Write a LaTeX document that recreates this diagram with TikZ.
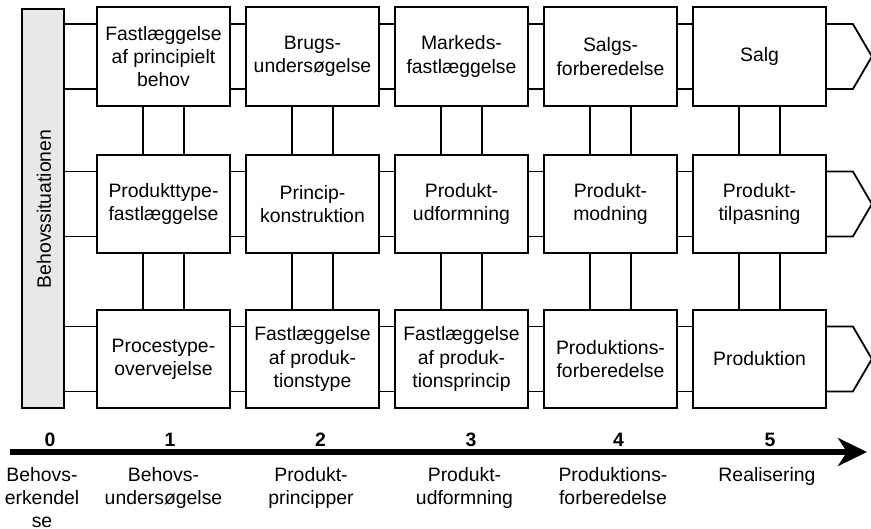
\documentclass[tikz,border=0pt]{standalone}
\usepackage{fontspec}
\setmainfont{Liberation Sans}
\usetikzlibrary{arrows.meta}
\begin{document}
\begin{tikzpicture}[x=1pt,y=-1pt,
  txt/.style={font=\fontsize{19.4}{23.3}\selectfont, align=center},
  stage/.style={txt, draw, line width=1.8pt, minimum width=133pt, minimum height=98.5pt, inner sep=0pt},
  link/.style={line width=1.8pt},
  phase/.style={txt, anchor=north, inner sep=0pt},
  num/.style={font=\fontsize{19.4}{23.3}\selectfont\bfseries, anchor=base, inner sep=0pt}]
\useasboundingbox (0,0) rectangle (871,528);

% need situation bar
\node[draw, line width=1.8pt, fill=black!9, minimum width=42pt, minimum height=399pt, inner sep=0pt] (bar) at (43,208.5) {};
\node[txt, rotate=90] (bartxt) at (44,209) {Behovssituationen};

% stage boxes: rows r1..r3, columns c1..c5
\node[stage] (r1c1) at (163.5,56.5) {Fastlæggelse\\af principielt\\behov};
\node[stage] (r1c2) at (312.5,56.5) {Brugs-\\undersøgelse};
\node[stage] (r1c3) at (461.5,56.5) {Markeds-\\fastlæggelse};
\node[stage] (r1c4) at (610.5,56.5) {Salgs-\\forberedelse};
\node[stage] (r1c5) at (759.5,56.5) {Salg};

\node[stage] (r2c1) at (163.5,204) {Produkttype-\\fastlæggelse};
\node[stage] (r2c2) at (312.5,204) {Princip-\\konstruktion};
\node[stage] (r2c3) at (461.5,204) {Produkt-\\udformning};
\node[stage] (r2c4) at (610.5,204) {Produkt-\\modning};
\node[stage] (r2c5) at (759.5,204) {Produkt-\\tilpasning};

\node[stage] (r3c1) at (163.5,359) {Procestype-\\overvejelse};
\node[stage] (r3c2) at (312.5,359) {Fastlæggelse\\af produk-\\tionstype};
\node[stage] (r3c3) at (461.5,359) {Fastlæggelse\\af produk-\\tionsprincip};
\node[stage] (r3c4) at (610.5,359) {Produktions-\\forberedelse};
\node[stage] (r3c5) at (759.5,359) {Produktion};

% double links from the bar and between neighbouring boxes
\foreach \r in {1,2,3}{
  \coordinate (ua\r) at ([yshift=32.5pt]r\r c1.west);
  \coordinate (la\r) at ([yshift=-32.5pt]r\r c1.west);
  \draw[link] (ua\r) -- (ua\r -| bar.east);
  \draw[link] (la\r) -- (la\r -| bar.east);
  \foreach \a/\b in {1/2,2/3,3/4,4/5}{
    \draw[link] ([yshift=32.5pt]r\r c\a.east) -- ([yshift=32.5pt]r\r c\b.west);
    \draw[link] ([yshift=-32.5pt]r\r c\a.east) -- ([yshift=-32.5pt]r\r c\b.west);
  }
  % open arrow outline at the end of each row
  \coordinate (tip\r) at ([xshift=45pt]r\r c5.east);
  \draw[link, line join=miter] ([yshift=32.5pt]r\r c5.east) -- ([yshift=32.5pt,xshift=26pt]r\r c5.east)
    -- (tip\r) -- ([yshift=-32.5pt,xshift=26pt]r\r c5.east) -- ([yshift=-32.5pt]r\r c5.east);
}

% double links between rows
\foreach \c in {1,...,5}{
  \foreach \a/\b in {1/2,2/3}{
    \draw[link] ([xshift=-20.5pt]r\a c\c.south) -- ([xshift=-20.5pt]r\b c\c.north);
    \draw[link] ([xshift=20.5pt]r\a c\c.south) -- ([xshift=20.5pt]r\b c\c.north);
  }
}

% time axis
\coordinate (axisstart) at (10,452);
\coordinate (axisend) at (867,452);
\draw[line width=5.5pt, -{Stealth[length=29pt, width=28pt, inset=9pt]}] (axisstart) -- (axisend);

\node[num] (n0) at (50,446.7) {0};
\node[num] (n1) at (170,446.7) {1};
\node[num] (n2) at (320.5,446.7) {2};
\node[num] (n3) at (471,446.7) {3};
\node[num] (n4) at (618.5,446.7) {4};
\node[num] (n5) at (770,446.7) {5};

\node[phase] (p0) at (42,467) {Behovs-\\erkendel\\se};
\node[phase] (p1) at (163.5,467) {Behovs-\\undersøgelse};
\node[phase] (p2) at (311,467) {Produkt-\\principper};
\node[phase] (p3) at (464.5,467) {Produkt-\\udformning};
\node[phase] (p4) at (613,467) {Produktions-\\forberedelse};
\node[phase] (p5) at (767,467) {Realisering};
\end{tikzpicture}
\end{document}
